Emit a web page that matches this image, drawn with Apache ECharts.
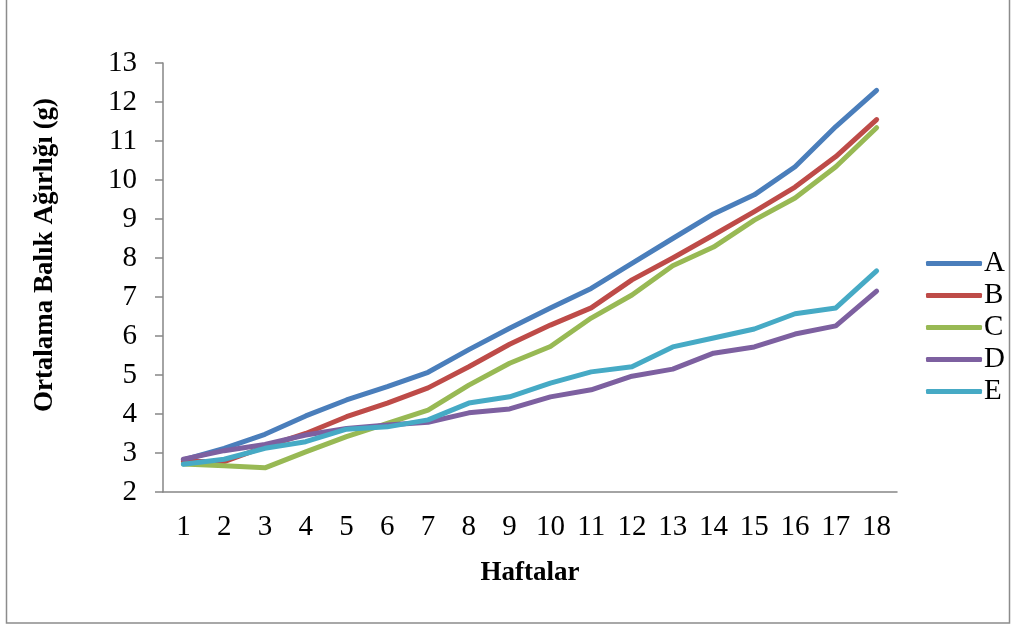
<!DOCTYPE html>
<html>
<head>
<meta charset="utf-8">
<style>
  html, body { margin: 0; padding: 0; background: #fff; }
  #chart { width: 1014px; height: 630px; }
</style>
<script src="https://cdn.jsdelivr.net/npm/echarts@6/dist/echarts.min.js"></script>
</head>
<body>
<div id="chart"></div>
<script>
// Weekly mean fish weight per group
const weeks = ['1','2','3','4','5','6','7','8','9','10','11','12','13','14','15','16','17','18'];
const seriesA = [2.82, 3.12, 3.48, 3.95, 4.36, 4.70, 5.07, 5.65, 6.20, 6.72, 7.22, 7.86, 8.50, 9.13, 9.62, 10.34, 11.37, 12.30];
const seriesB = [2.78, 2.78, 3.16, 3.50, 3.93, 4.28, 4.67, 5.21, 5.79, 6.28, 6.72, 7.44, 8.00, 8.59, 9.19, 9.82, 10.60, 11.55];
const seriesC = [2.72, 2.67, 2.62, 3.03, 3.42, 3.76, 4.10, 4.74, 5.30, 5.73, 6.46, 7.05, 7.80, 8.28, 8.97, 9.54, 10.34, 11.34];
const seriesD = [2.84, 3.06, 3.22, 3.46, 3.63, 3.72, 3.79, 4.03, 4.13, 4.44, 4.62, 4.97, 5.15, 5.56, 5.72, 6.05, 6.26, 7.15];
const seriesE = [2.71, 2.84, 3.12, 3.29, 3.61, 3.67, 3.85, 4.28, 4.44, 4.79, 5.08, 5.21, 5.72, 5.95, 6.18, 6.57, 6.72, 7.67];
const groupNames = ['A', 'B', 'C', 'D', 'E'];
const groupColors = ['#4a7ebb', '#be4b48', '#98b954', '#7d60a0', '#46aac5'];
const xTitle = 'Haftalar';
const yTitle = 'Ortalama Balık Ağırlığı (g)';

const serif = '"Liberation Serif", "DejaVu Serif", serif';
const axisGrey = '#868686';
const allValues = [seriesA, seriesB, seriesC, seriesD, seriesE];

const chart = echarts.init(document.getElementById('chart'), null, { renderer: 'canvas' });
chart.setOption({
  animation: false,
  backgroundColor: '#fff',
  color: groupColors,
  graphic: [
    {
      // chart-area frame
      type: 'rect',
      shape: { x: 6.5, y: -3, width: 1003, height: 626 },
      style: { fill: 'none', stroke: '#8c8c8c', lineWidth: 1.5 },
      silent: true
    },
    {
      // vertical axis title
      type: 'text',
      x: 45,
      y: 255,
      rotation: Math.PI / 2,
      style: {
        text: yTitle,
        fontFamily: serif,
        fontSize: 27,
        fontWeight: 'bold',
        fill: '#000',
        align: 'center',
        verticalAlign: 'middle'
      },
      silent: true
    }
  ],
  grid: { left: 163, right: 117, top: 63, bottom: 138 },
  legend: {
    orient: 'vertical',
    left: 921,
    top: 244,
    itemWidth: 56,
    itemHeight: 5,
    itemGap: 3,
    icon: 'roundRect',
    textStyle: { fontFamily: serif, fontSize: 29, color: '#000', padding: [0, 0, 0, -3] },
    data: groupNames
  },
  xAxis: {
    type: 'category',
    data: weeks,
    boundaryGap: true,
    name: xTitle,
    nameLocation: 'middle',
    nameGap: 68,
    nameTextStyle: { fontFamily: serif, fontSize: 27, fontWeight: 'bold', color: '#000' },
    axisLine: { lineStyle: { color: axisGrey, width: 1.5 } },
    axisTick: { alignWithLabel: false, length: 9, lineStyle: { color: axisGrey, width: 1.5 } },
    axisLabel: { fontFamily: serif, fontSize: 29, color: '#000', margin: 21, interval: 0 },
    splitLine: { show: false }
  },
  yAxis: {
    type: 'value',
    min: 2,
    max: 13,
    interval: 1,
    axisLine: { show: true, lineStyle: { color: axisGrey, width: 1.5 } },
    axisTick: { show: true, length: 8, lineStyle: { color: axisGrey, width: 1.5 } },
    axisLabel: { fontFamily: serif, fontSize: 29, color: '#000', margin: 26 },
    splitLine: { show: false }
  },
  series: groupNames.map((name, i) => ({
    name: name,
    type: 'line',
    data: allValues[i],
    symbol: 'none',
    lineStyle: { width: 5, color: groupColors[i], cap: 'round', join: 'round' },
    itemStyle: { color: groupColors[i] }
  }))
});
</script>
</body>
</html>
